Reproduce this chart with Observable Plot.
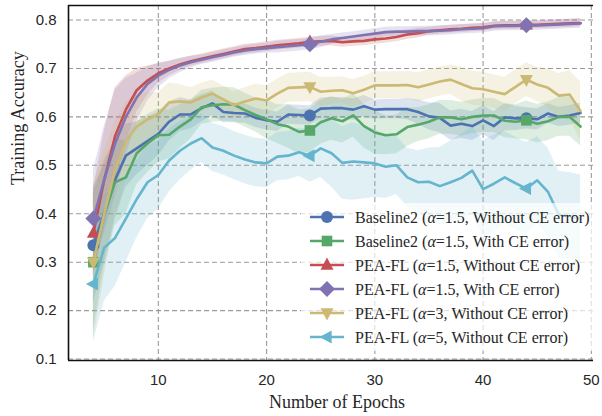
<!DOCTYPE html>
<html>
<head>
<meta charset="utf-8">
<script src="https://cdn.jsdelivr.net/npm/d3@7"></script>
<script src="https://cdn.jsdelivr.net/npm/@observablehq/plot@0.6"></script>
<style>
  html, body { margin: 0; padding: 0; background: #fff; }
  #chart { width: 602px; height: 416px; }
</style>
</head>
<body>
<div id="chart"></div>
<script>
// ---- data ----
const epochs = [4,5,6,7,8,9,10,11,12,13,14,15,16,17,18,19,20,21,22,23,24,25,26,27,28,29,30,31,32,33,34,35,36,37,38,39,40,41,42,43,44,45,46,47,48,49];
const markerEpochs = [4, 24, 44];
const xTicks = [10, 20, 30, 40, 50];
const yTicks = [0.1, 0.2, 0.3, 0.4, 0.5, 0.6, 0.7, 0.8];

const baselineNoCE = [0.335,0.40,0.47,0.52,0.535,0.55,0.565,0.59,0.605,0.605,0.618,0.628,0.61,0.608,0.607,0.598,0.593,0.59,0.605,0.604,0.603,0.617,0.618,0.618,0.615,0.622,0.615,0.616,0.616,0.616,0.61,0.601,0.598,0.582,0.586,0.581,0.593,0.581,0.599,0.597,0.597,0.595,0.607,0.6,0.603,0.608];
const baselineNoCESpread = [0.12,0.10,0.08,0.065,0.055,0.05,0.045,0.04,0.035,0.03,0.028,0.025,0.022,0.02,0.02,0.02,0.02,0.02,0.02,0.02,0.02,0.022,0.022,0.022,0.022,0.022,0.02,0.02,0.02,0.022,0.025,0.028,0.03,0.03,0.03,0.03,0.03,0.03,0.028,0.025,0.022,0.022,0.02,0.02,0.02,0.02];

const baselineCE = [0.30,0.40,0.465,0.475,0.525,0.545,0.562,0.563,0.58,0.595,0.62,0.624,0.626,0.625,0.614,0.604,0.595,0.585,0.58,0.569,0.572,0.589,0.597,0.591,0.603,0.581,0.568,0.562,0.564,0.579,0.584,0.59,0.599,0.599,0.595,0.6,0.603,0.603,0.592,0.59,0.593,0.586,0.591,0.6,0.6,0.58];
const baselineCESpread = [0.14,0.11,0.09,0.075,0.065,0.06,0.055,0.05,0.045,0.04,0.035,0.035,0.035,0.035,0.035,0.035,0.04,0.04,0.045,0.045,0.045,0.045,0.045,0.045,0.045,0.045,0.045,0.04,0.04,0.04,0.035,0.035,0.035,0.035,0.035,0.035,0.035,0.035,0.035,0.035,0.04,0.04,0.04,0.04,0.04,0.04];

const peaNoCE = [0.36,0.47,0.56,0.615,0.655,0.675,0.69,0.70,0.708,0.715,0.72,0.725,0.73,0.735,0.74,0.742,0.745,0.748,0.75,0.752,0.755,0.756,0.757,0.754,0.756,0.757,0.76,0.762,0.765,0.77,0.773,0.777,0.779,0.781,0.782,0.784,0.785,0.788,0.789,0.789,0.79,0.79,0.791,0.792,0.793,0.794];
const peaNoCESpread = [0.09,0.10,0.10,0.07,0.045,0.03,0.02,0.015,0.012,0.01,0.01,0.01,0.01,0.01,0.01,0.01,0.01,0.01,0.01,0.01,0.01,0.01,0.01,0.01,0.01,0.01,0.01,0.01,0.01,0.01,0.01,0.008,0.008,0.008,0.008,0.008,0.008,0.008,0.008,0.008,0.008,0.008,0.008,0.008,0.008,0.008];

const peaCE = [0.39,0.47,0.545,0.60,0.64,0.668,0.685,0.697,0.706,0.713,0.718,0.723,0.728,0.733,0.737,0.74,0.742,0.744,0.746,0.748,0.75,0.755,0.76,0.763,0.766,0.769,0.772,0.775,0.776,0.776,0.777,0.777,0.778,0.779,0.781,0.782,0.783,0.787,0.788,0.788,0.789,0.789,0.79,0.791,0.792,0.793];
const peaCESpread = [0.10,0.11,0.11,0.08,0.05,0.035,0.025,0.018,0.015,0.012,0.01,0.01,0.01,0.01,0.01,0.01,0.01,0.012,0.012,0.012,0.012,0.012,0.01,0.01,0.01,0.01,0.01,0.01,0.01,0.01,0.01,0.01,0.01,0.01,0.01,0.01,0.01,0.01,0.01,0.01,0.01,0.01,0.01,0.01,0.01,0.01];

const peaA3 = [0.30,0.40,0.49,0.55,0.58,0.595,0.605,0.63,0.632,0.63,0.64,0.648,0.636,0.624,0.632,0.638,0.634,0.648,0.66,0.661,0.662,0.652,0.654,0.655,0.649,0.656,0.665,0.665,0.665,0.666,0.661,0.667,0.673,0.677,0.668,0.659,0.657,0.652,0.647,0.662,0.677,0.667,0.66,0.644,0.646,0.612];
const peaA3Spread = [0.16,0.13,0.10,0.08,0.065,0.055,0.045,0.04,0.035,0.03,0.03,0.028,0.028,0.028,0.028,0.03,0.03,0.03,0.03,0.03,0.03,0.03,0.028,0.028,0.028,0.028,0.028,0.028,0.028,0.028,0.03,0.03,0.03,0.03,0.035,0.035,0.035,0.035,0.035,0.035,0.035,0.035,0.04,0.045,0.05,0.06];

const peaA5 = [0.255,0.33,0.35,0.39,0.43,0.465,0.48,0.51,0.53,0.545,0.556,0.537,0.53,0.52,0.512,0.506,0.504,0.518,0.52,0.527,0.52,0.535,0.525,0.505,0.508,0.506,0.504,0.497,0.5,0.475,0.465,0.466,0.457,0.465,0.474,0.489,0.451,0.462,0.475,0.463,0.452,0.469,0.445,0.398,0.395,0.39];
const peaA5Spread = [0.12,0.11,0.10,0.09,0.08,0.075,0.07,0.065,0.06,0.055,0.05,0.05,0.05,0.05,0.05,0.05,0.05,0.05,0.05,0.05,0.055,0.06,0.07,0.075,0.08,0.075,0.07,0.065,0.06,0.06,0.065,0.07,0.08,0.085,0.09,0.09,0.1,0.1,0.095,0.095,0.095,0.09,0.09,0.09,0.09,0.09];

const seriesNames = ["Baseline2", "Baseline2", "PEA-FL", "PEA-FL", "PEA-FL", "PEA-FL"];
const seriesAlpha = ["1.5", "1.5", "1.5", "1.5", "3", "5"];
const seriesCE = ["Without CE error", "With CE error", "Without CE error", "With CE error", "Without CE error", "Without CE error"];
const seriesColors = ["#4C72B0", "#55A868", "#C44E52", "#8172B2", "#CCB974", "#64B5CD"];
const seriesValues = [baselineNoCE, baselineCE, peaNoCE, peaCE, peaA3, peaA5];
const seriesSpreads = [baselineNoCESpread, baselineCESpread, peaNoCESpread, peaCESpread, peaA3Spread, peaA5Spread];

// ---- symbols ----
const triUp = {draw(c, size) { const r = Math.sqrt(size / Math.PI); c.moveTo(0, -r * 1.2); c.lineTo(r * 1.05, r * 0.75); c.lineTo(-r * 1.05, r * 0.75); c.closePath(); }};
const triDown = {draw(c, size) { const r = Math.sqrt(size / Math.PI); c.moveTo(0, r * 1.2); c.lineTo(r * 1.05, -r * 0.75); c.lineTo(-r * 1.05, -r * 0.75); c.closePath(); }};
const triLeft = {draw(c, size) { const r = Math.sqrt(size / Math.PI); c.moveTo(-r * 1.2, 0); c.lineTo(r * 0.75, -r * 1.05); c.lineTo(r * 0.75, r * 1.05); c.closePath(); }};
const seriesSymbols = [d3.symbolCircle, d3.symbolSquare, triUp, d3.symbolDiamond2, triDown, triLeft];
const seriesR = [6, 6, 6.2, 7.2, 6.2, 6.2];

// ---- tidy rows ----
const series = seriesValues.map((vals, s) => ({
  key: s,
  color: seriesColors[s],
  rows: epochs.map((e, i) => ({
    epoch: e, acc: vals[i],
    lo: vals[i] - seriesSpreads[s][i], hi: vals[i] + seriesSpreads[s][i]
  }))
}));

const xDomain = [1.7, 50.2];
const yDomain = [0.097, 0.83];
const gridStyle = {stroke: "#9a9a9a", strokeOpacity: 1, strokeWidth: 1.1, strokeDasharray: "5,3"};

const marks = [
  Plot.gridY(yTicks, gridStyle),
  Plot.gridX(xTicks, gridStyle),
  ...series.map(s => Plot.areaY(s.rows, {x: "epoch", y1: "lo", y2: "hi", fill: s.color, fillOpacity: 0.2, curve: "linear", clip: true})),
];
series.forEach((s, i) => {
  marks.push(Plot.line(s.rows, {x: "epoch", y: "acc", stroke: s.color, strokeWidth: 2.6, clip: true}));
  marks.push(Plot.dot(s.rows.filter(d => markerEpochs.includes(d.epoch)),
    {x: "epoch", y: "acc", symbol: seriesSymbols[i], r: seriesR[i], fill: s.color, stroke: "none"}));
});
marks.push(
  Plot.ruleX([xDomain[0]], {stroke: "#111", strokeWidth: 1.6}),
  Plot.ruleY([yDomain[0]], {stroke: "#111", strokeWidth: 1.6}),
  Plot.ruleY([yDomain[1]], {stroke: "#111", strokeWidth: 1.6}),
  Plot.axisY(yTicks, {tickSize: 0, tickPadding: 12, tickFormat: ".1f", label: null, fontSize: 15, fill: "#262626"}),
  Plot.axisX(xTicks, {tickSize: 0, tickPadding: 14, label: null, fontSize: 15, fill: "#262626"}),
  Plot.text(["Number of Epochs"], {frameAnchor: "bottom", dy: 42, dx: 6, fontSize: 18, fontFamily: "Liberation Serif, Times New Roman, serif", fill: "#262626", lineAnchor: "middle"}),
  Plot.text(["Training Accuracy"], {frameAnchor: "left", dx: -50, dy: 2, rotate: -90, fontSize: 18, fontFamily: "Liberation Serif, Times New Roman, serif", fill: "#262626", lineAnchor: "middle"})
);

const chart = Plot.plot({
  width: 602, height: 416,
  marginLeft: 68, marginRight: 9, marginTop: 5, marginBottom: 56,
  x: {domain: xDomain},
  y: {domain: yDomain},
  style: {fontFamily: "Liberation Sans, Arial, sans-serif", fontSize: "15px", background: "white", overflow: "visible"},
  marks
});
document.getElementById("chart").appendChild(chart);

// ---- legend ----
const svg = d3.select(chart);
const lg = svg.append("g").attr("class", "legend").attr("text-anchor", "start");
lg.append("rect").attr("x", 301).attr("y", 203).attr("width", 292).attr("height", 148)
  .attr("fill", "white").attr("fill-opacity", 0.7);
series.forEach((s, i) => {
  const cy = 217 + i * 24;
  lg.append("line").attr("x1", 310).attr("x2", 344).attr("y1", cy).attr("y2", cy)
    .attr("stroke", s.color).attr("stroke-width", 2.6);
  lg.append("path").attr("transform", `translate(327,${cy})`)
    .attr("d", d3.symbol().type(seriesSymbols[i]).size(Math.PI * seriesR[i] * seriesR[i])())
    .attr("fill", s.color);
  const t = lg.append("text").attr("x", 355).attr("y", cy).attr("dy", "0.35em")
    .attr("text-anchor", "start")
    .attr("font-family", "Liberation Serif, Times New Roman, serif").attr("font-size", 16).attr("fill", "#262626");
  t.append("tspan").text(`${seriesNames[i]} (`);
  t.append("tspan").attr("font-style", "italic").text("α");
  t.append("tspan").text(`=${seriesAlpha[i]}, ${seriesCE[i]})`);
});
</script>
</body>
</html>
